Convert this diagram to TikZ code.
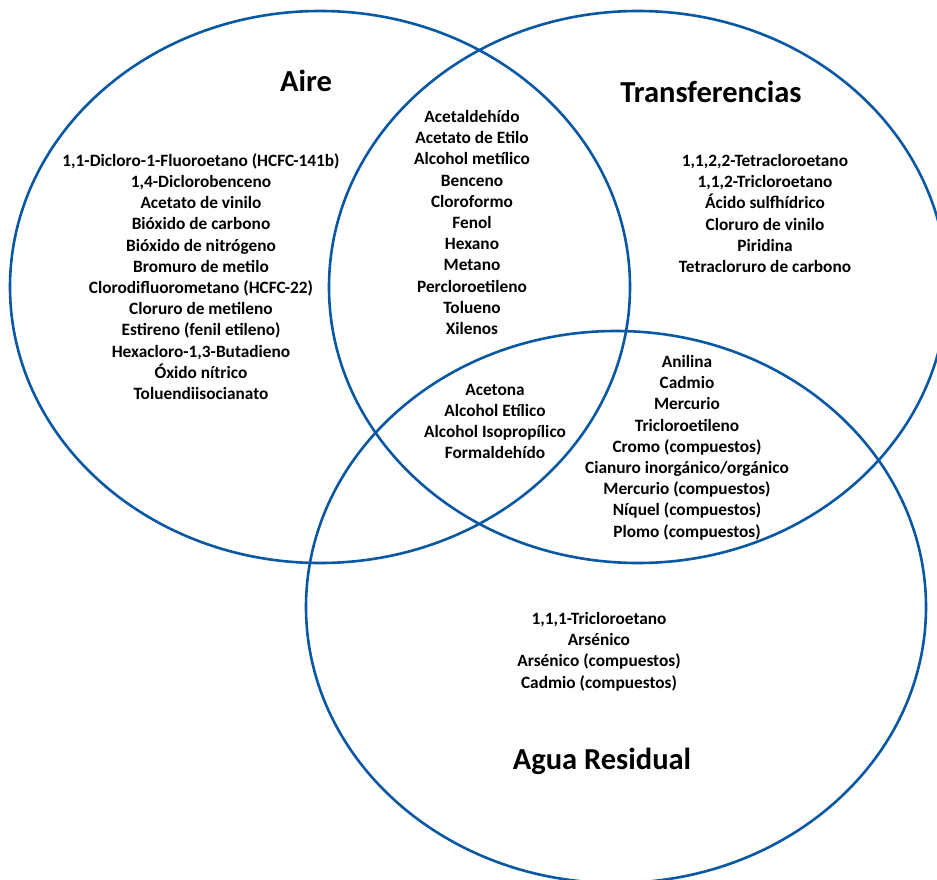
\documentclass[tikz,border=0pt]{standalone}
\usepackage{fontspec}
\setmainfont{Carlito}
\definecolor{vennblue}{RGB}{10,87,164}
\begin{document}
\begin{tikzpicture}[x=1pt,y=-1pt,
  set/.style={draw=vennblue,line width=2.6pt},
  title/.style={font=\bfseries\fontsize{30.5}{34}\selectfont,inner sep=0pt},
  list/.style={font=\bfseries\fontsize{17.3}{21.2}\selectfont,align=center,inner sep=0pt}]
\clip (0,0) rectangle (937,880);
\fill[white] (0,0) rectangle (937,880);
\draw[set] (320,287) ellipse [x radius=310pt, y radius=276pt];
\draw[set] (638,287) ellipse [x radius=309pt, y radius=276pt];
\draw[set] (616,607) ellipse [x radius=310pt, y radius=276pt];
\node[title] (taire) at (306,81) {Aire};
\node[title] (ttrans) at (711,92) {Transferencias};
\node[title] (tagua) at (602,761) {Agua Residual};
\node[list] (laire) at (201,276.5) {1,1-Dicloro-1-Fluoroetano (HCFC-141b)\\1,4-Diclorobenceno\\Acetato de vinilo\\Bióxido de carbono\\Bióxido de nitrógeno\\Bromuro de metilo\\Clorodifluorometano (HCFC-22)\\Cloruro de metileno\\Estireno (fenil etileno)\\Hexacloro-1,3-Butadieno\\Óxido nítrico\\Toluendiisocianato};
\node[list] (lat) at (472,222.5) {Acetaldehído\\Acetato de Etilo\\Alcohol metílico\\Benceno\\Cloroformo\\Fenol\\Hexano\\Metano\\Percloroetileno\\Tolueno\\Xilenos};
\node[list] (ltrans) at (765,213.5) {1,1,2,2-Tetracloroetano\\1,1,2-Tricloroetano\\Ácido sulfhídrico\\Cloruro de vinilo\\Piridina\\Tetracloruro de carbono};
\node[list] (lall) at (495,421.5) {Acetona\\Alcohol Etílico\\Alcohol Isopropílico\\Formaldehído};
\node[list] (ltw) at (687,447.5) {Anilina\\Cadmio\\Mercurio\\Tricloroetileno\\Cromo (compuestos)\\Cianuro inorgánico/orgánico\\Mercurio (compuestos)\\Níquel (compuestos)\\Plomo (compuestos)};
\node[list] (lagua) at (599,651.5) {1,1,1-Tricloroetano\\Arsénico\\Arsénico (compuestos)\\Cadmio (compuestos)};
\end{tikzpicture}
\end{document}
